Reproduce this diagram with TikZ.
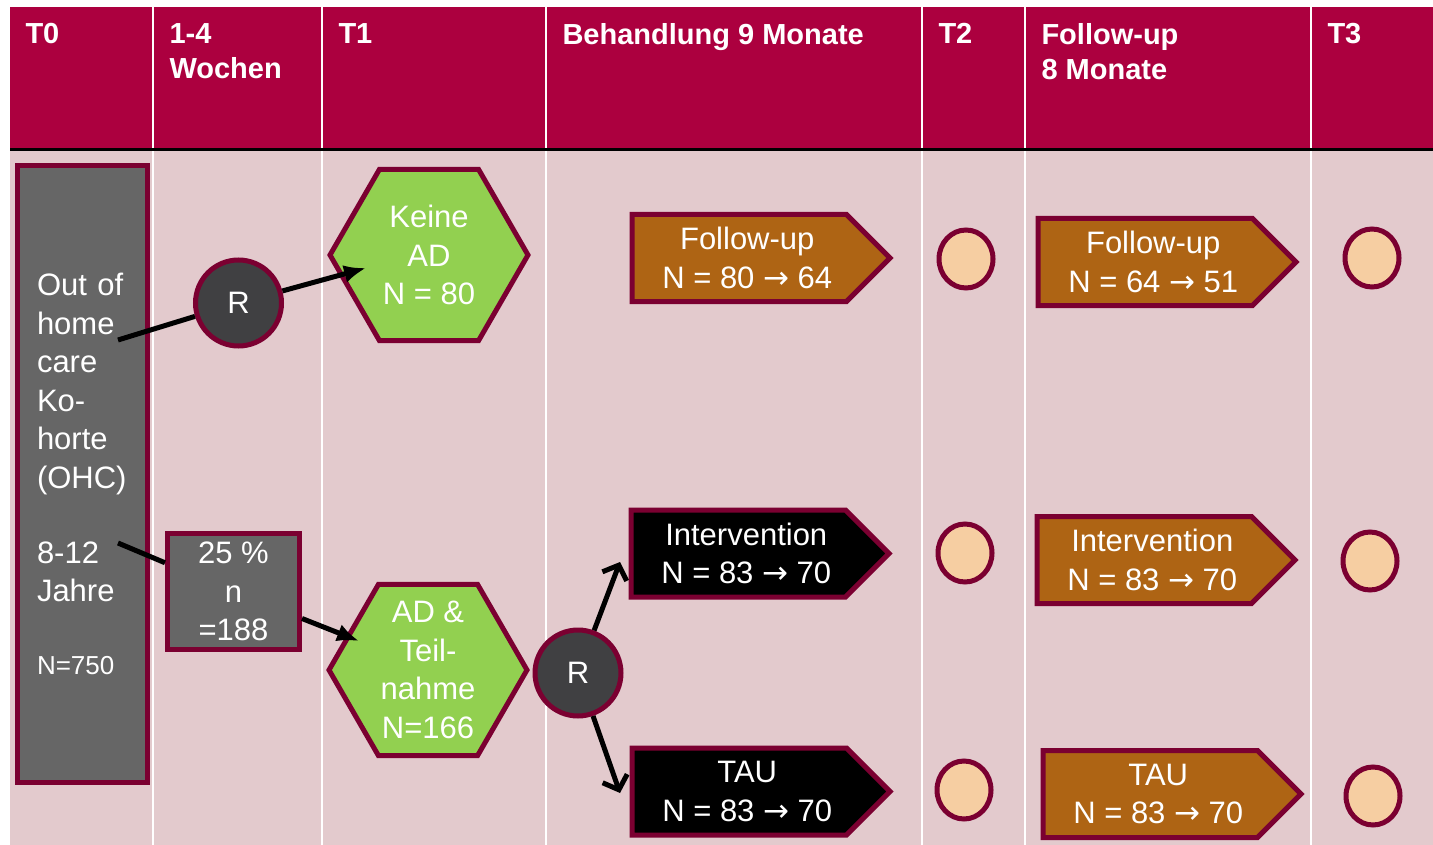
\documentclass[tikz,border=0pt]{standalone}
\usepackage{fontspec}
\setmainfont{Liberation Sans}
\newfontfamily\pfeilfont{DejaVu Sans}
\newcommand{\nach}{{\pfeilfont →}}
\newcommand{\rein}{\hspace*{16pt}}
\usetikzlibrary{shapes.geometric,shapes.symbols,arrows.meta}

\definecolor{weinrot}{HTML}{AC003F}
\definecolor{rosa}{HTML}{E3CACD}
\definecolor{randrot}{HTML}{7B0031}
\definecolor{grau}{HTML}{666666}
\definecolor{dunkelgrau}{HTML}{404042}
\definecolor{gruen}{HTML}{92D050}
\definecolor{braun}{HTML}{AE6414}
\definecolor{pfirsich}{HTML}{F6CEA2}

\begin{document}
\begin{tikzpicture}[x=1pt,y=-1pt,
  every node/.style={draw=randrot,line width=5pt,text=white,inner sep=0pt,align=center,
    font=\fontsize{31}{38.5}\selectfont},
  titel/.style={draw=none,anchor=north west,align=left,font=\fontsize{29}{35}\selectfont\bfseries},
  hexa/.style={regular polygon,regular polygon sides=6,minimum size=198pt,inner sep=-20pt,fill=gruen},
  zufall/.style={circle,minimum size=86pt,fill=dunkelgrau},
  pfeil/.style={signal,signal to=east,signal pointer angle=90,minimum width=258pt,
    minimum height=87pt,anchor=west},
  punkt/.style={ellipse,minimum width=54pt,minimum height=58pt,fill=pfirsich},
  linie/.style={line width=5pt}]
  \useasboundingbox (0,0) rectangle (1433,845);
  % Hintergrund
  \fill[rosa] (10,150) rectangle (1433,845);
  \fill[weinrot] (10,7) rectangle (1433,148);
  \foreach \x in {153,322,546,922,1025,1311}
    \draw[white,line width=2.5pt] (\x,7) -- (\x,845);
  \draw[line width=3pt] (10,150) -- (1433,150);
  % Kopfzeile
  \node[titel] (T0) at (23,21) {T0};
  \node[titel] (W) at (167,21) {1-4\\Wochen};
  \node[titel] (T1) at (336,21) {T1};
  \node[titel] (B) at (560,21) {Behandlung 9 Monate};
  \node[titel] (T2) at (936,21) {T2};
  \node[titel] (F) at (1039,21) {Follow-up\\8 Monate};
  \node[titel] (T3) at (1325,21) {T3};
  % Kohorte
  \node[fill=grau,minimum width=130pt,minimum height=617pt,text width=91pt,align=left] (ohc) at (82.5,474)
    {Out of\\home\\care\\Ko-\\horte\\(OHC)\\[36.5pt]8-12\\Jahre\\[34pt]{\fontsize{26}{30}\selectfont N=750}};
  \node[fill=grau,minimum width=132pt,minimum height=116pt] (n) at (233.5,591.5) {25 \%\\n\\=188};
  \node[zufall] (R1) at (238.5,303) {R};
  \node[zufall] (R2) at (578,673) {R};
  \node[hexa] (keine) at (429,255) {Keine\\AD\\N = 80};
  \node[hexa] (teil) at (428,670) {AD \&\\Teil-\\nahme\\N=166};
  % Gruppen
  \node[pfeil,fill=braun] (fu1) at (629.5,258) {\rein Follow-up\\\rein N = 80 \nach{} 64};
  \node[pfeil,fill=black] (int1) at (628.5,553.5) {\rein Intervention\\\rein N = 83 \nach{} 70};
  \node[pfeil,fill=black] (tau1) at (629.5,791.5) {\rein TAU\\\rein N = 83 \nach{} 70};
  \node[pfeil,fill=braun] (fu2) at (1035.5,262) {\rein Follow-up\\\rein N = 64 \nach{} 51};
  \node[pfeil,fill=braun] (int2) at (1034.5,560) {\rein Intervention\\\rein N = 83 \nach{} 70};
  \node[pfeil,fill=braun] (tau2) at (1040.5,794) {\rein TAU\\\rein N = 83 \nach{} 70};
  % Messzeitpunkte
  \node[punkt] (p1) at (966,259) {};
  \node[punkt] (p2) at (965,553) {};
  \node[punkt] (p3) at (964,790) {};
  \node[punkt] (p4) at (1372,258) {};
  \node[punkt] (p5) at (1370,561) {};
  \node[punkt] (p6) at (1373,796) {};
  % Verbindungen
  \coordinate (a1) at (118,340);
  \coordinate (a2) at (118,543);
  \coordinate (k) at (366,268);
  \coordinate (t) at (359,641);
  \coordinate (i) at (620,562);
  \coordinate (u) at (620,793);
  \draw[linie] (a1) -- (R1);
  \draw[linie,-{Latex[length=22pt,width=18pt]}] (R1) -- (k);
  \draw[linie] (a2) -- (n);
  \draw[linie,-{Latex[length=22pt,width=18pt]}] (n) -- (t);
  \draw[linie,-{Straight Barb[length=12pt,width=26pt]}] (R2) -- (i);
  \draw[linie,-{Straight Barb[length=12pt,width=26pt]}] (R2) -- (u);
\end{tikzpicture}
\end{document}
